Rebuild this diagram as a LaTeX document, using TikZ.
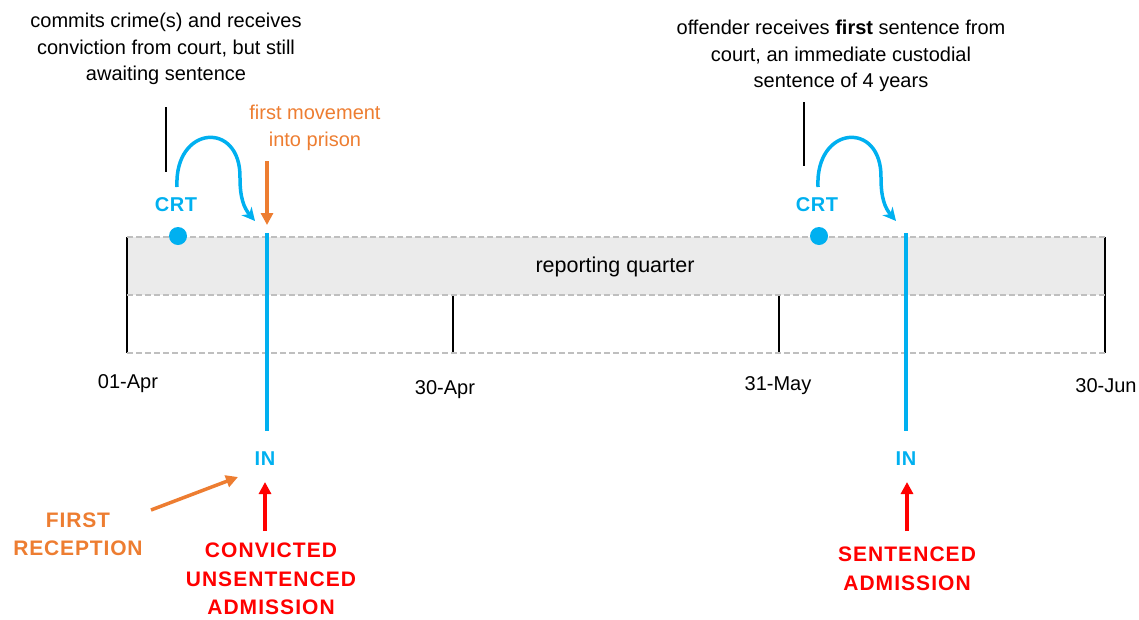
\documentclass[tikz,border=0pt]{standalone}
\usepackage{fontspec}
\setmainfont{Liberation Sans}
\usetikzlibrary{arrows.meta}
\definecolor{cblue}{HTML}{00B0F0}
\definecolor{corange}{HTML}{ED7D31}
\definecolor{cred}{HTML}{FF0000}
\definecolor{bandgray}{HTML}{EBEBEB}
\definecolor{dashgray}{HTML}{BFBFBF}
\begin{document}
\begin{tikzpicture}[x=1pt,y=-1pt,
  txt/.style={font=\fontsize{20}{26.5}\selectfont, align=center, inner sep=0pt, text=black},
  bluelbl/.style={font=\fontsize{20}{24}\selectfont\bfseries\addfontfeature{LetterSpace=3}, text=cblue, inner sep=0pt},
  redlbl/.style={font=\fontsize{21}{28.5}\selectfont\bfseries\addfontfeature{LetterSpace=5}, text=cred, align=center, inner sep=0pt},
  orlbl/.style={font=\fontsize{21}{28}\selectfont\bfseries\addfontfeature{LetterSpace=4}, text=corange, align=center, inner sep=0pt},
  gridline/.style={draw=dashgray, line width=1.5pt, dash pattern=on 6pt off 3pt},
  ticks/.style={draw=black, line width=1.6pt},
  bluebar/.style={draw=cblue, line width=3.5pt},
  bluecurve/.style={draw=cblue, line width=3.5pt, -{Stealth[length=13pt,width=13pt,inset=4pt]}},
  orarrow/.style={draw=corange, line width=3.5pt, -{Triangle[length=12pt,width=12pt]}},
  redarrow/.style={draw=cred, line width=3.5pt, -{Triangle[length=12pt,width=12pt]}},
  pointer/.style={draw=black, line width=1.4pt}
]
\useasboundingbox (0,0) rectangle (1139,619);

% band
\fill[bandgray] (127,237) rectangle (1105,295);
\node[txt, font=\fontsize{21.5}{26}\selectfont] (rq) at (615,267) {reporting quarter};

% ticks
\coordinate (t1a) at (127,237); \coordinate (t1b) at (127,353);
\coordinate (t2a) at (453,295); \coordinate (t2b) at (453,353);
\coordinate (t3a) at (779,295); \coordinate (t3b) at (779,353);
\coordinate (t4a) at (1105,237); \coordinate (t4b) at (1105,353);
\draw[ticks] (t1a) -- (t1b);
\draw[ticks] (t2a) -- (t2b);
\draw[ticks] (t3a) -- (t3b);
\draw[ticks] (t4a) -- (t4b);

% dashed grid lines
\coordinate (g1a) at (127,237); \coordinate (g1b) at (1105,237);
\coordinate (g2a) at (127,295); \coordinate (g2b) at (1105,295);
\coordinate (g3a) at (127,353); \coordinate (g3b) at (1105,353);
\draw[gridline] (g1a) -- (g1b);
\draw[gridline] (g2a) -- (g2b);
\draw[gridline] (g3a) -- (g3b);

% date labels
\node[txt] (d1) at (128,384) {01-Apr};
\node[txt] (d2) at (445,390) {30-Apr};
\node[txt] (d3) at (778,386) {31-May};
\node[txt] (d4) at (1106,386) {30-Jun};

% top texts
\node[txt] (lt) at (166,49) {commits crime(s) and receives\\conviction from court, but still\\awaiting sentence};
\node[txt] (rt) at (841,56) {offender receives \textbf{first} sentence from\\court, an immediate custodial\\sentence of 4 years};
\coordinate (lp1) at (166,107); \coordinate (lp2) at (166,172);
\coordinate (rp1) at (804,102); \coordinate (rp2) at (804,166);
\draw[pointer] (lp1) -- (lp2);
\draw[pointer] (rp1) -- (rp2);

% CRT dots and labels
\fill[cblue] (178,236) circle (9);
\fill[cblue] (819,236) circle (9);
\node[bluelbl] (crt1) at (176,205) {CRT};
\node[bluelbl] (crt2) at (817,205) {CRT};

% blue vertical bars
\coordinate (b1a) at (267,233); \coordinate (b1b) at (267,431);
\coordinate (b2a) at (906,233); \coordinate (b2b) at (906,431);
\draw[bluebar] (b1a) -- (b1b);
\draw[bluebar] (b2a) -- (b2b);

% IN labels
\node[bluelbl] (in1) at (265,459) {IN};
\node[bluelbl] (in2) at (906,459) {IN};

% curved arrows
\coordinate (c1s) at (177,187); \coordinate (c1e) at (255,221);
\coordinate (c2s) at (818,187); \coordinate (c2e) at (896,221);
\draw[bluecurve] (c1s) .. controls (174,125) and (241,120) .. (240,178) .. controls (240,198) and (244,208) .. (c1e);
\draw[bluecurve] (c2s) .. controls (815,125) and (882,120) .. (881,178) .. controls (881,198) and (885,208) .. (c2e);

% orange first movement
\node[txt, text=corange] (fm) at (315,128) {first movement\\into prison};
\coordinate (fma) at (267,161); \coordinate (fmb) at (267,225);
\draw[orarrow] (fma) -- (fmb);

% first reception
\node[orlbl] (fr) at (78,534) {FIRST\\RECEPTION};
\coordinate (fra) at (151,510); \coordinate (frb) at (238,477);
\draw[orarrow] (fra) -- (frb);

% red admissions
\node[redlbl] (cua) at (271,579) {CONVICTED\\UNSENTENCED\\ADMISSION};
\node[redlbl] (sa) at (907,569) {SENTENCED\\ADMISSION};
\coordinate (ra1) at (265,531); \coordinate (ra2) at (265,482);
\coordinate (rb1) at (907,531); \coordinate (rb2) at (907,482);
\draw[redarrow] (ra1) -- (ra2);
\draw[redarrow] (rb1) -- (rb2);
\end{tikzpicture}
\end{document}
